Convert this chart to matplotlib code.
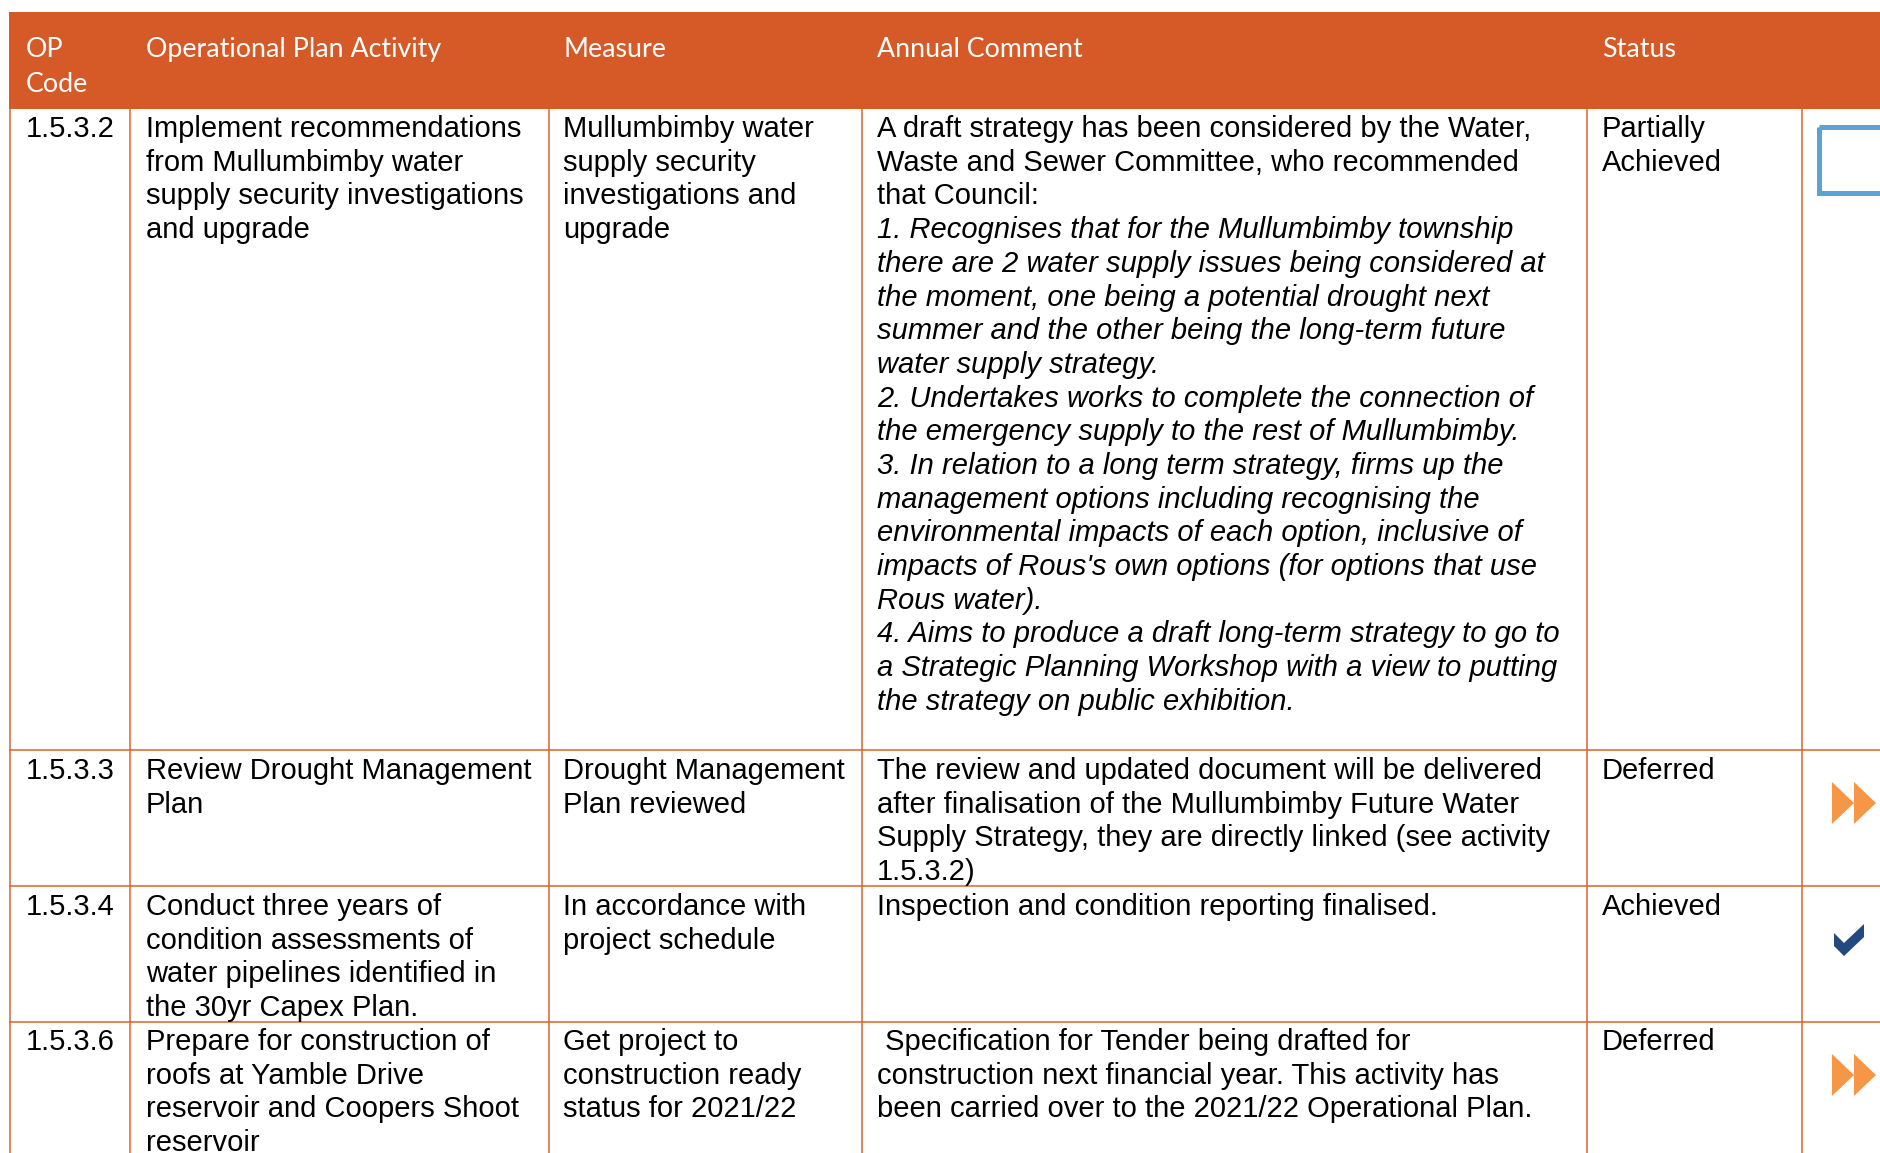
import matplotlib
matplotlib.use("Agg")
import matplotlib.pyplot as plt
from matplotlib.patches import Rectangle, Polygon

# --- table content ---------------------------------------------------------
headers = [["OP", "Code"], ["Operational Plan Activity"], ["Measure"],
           ["Annual Comment"], ["Status"]]

op_codes = ["1.5.3.2", "1.5.3.3", "1.5.3.4", "1.5.3.6"]

activities = [
    ["Implement recommendations", "from Mullumbimby water",
     "supply security investigations", "and upgrade"],
    ["Review Drought Management", "Plan"],
    ["Conduct three years of", "condition assessments of",
     "water pipelines identified in", "the 30yr Capex Plan."],
    ["Prepare for construction of", "roofs at Yamble Drive",
     "reservoir and Coopers Shoot", "reservoir"],
]

measures = [
    ["Mullumbimby water", "supply security", "investigations and", "upgrade"],
    ["Drought Management", "Plan reviewed"],
    ["In accordance with", "project schedule"],
    ["Get project to", "construction ready", "status for 2021/22"],
]

# (text, italic)
comments = [
    [("A draft strategy has been considered by the Water,", False),
     ("Waste and Sewer Committee, who recommended", False),
     ("that Council:", False),
     ("1. Recognises that for the Mullumbimby township", True),
     ("there are 2 water supply issues being considered at", True),
     ("the moment, one being a potential drought next", True),
     ("summer and the other being the long-term future", True),
     ("water supply strategy.", True),
     ("2. Undertakes works to complete the connection of", True),
     ("the emergency supply to the rest of Mullumbimby.", True),
     ("3. In relation to a long term strategy, firms up the", True),
     ("management options including recognising the", True),
     ("environmental impacts of each option, inclusive of", True),
     ("impacts of Rous's own options (for options that use", True),
     ("Rous water).", True),
     ("4. Aims to produce a draft long-term strategy to go to", True),
     ("a Strategic Planning Workshop with a view to putting", True),
     ("the strategy on public exhibition.", True)],
    [("The review and updated document will be delivered", False),
     ("after finalisation of the Mullumbimby Future Water", False),
     ("Supply Strategy, they are directly linked (see activity", False),
     ("1.5.3.2)", False)],
    [("Inspection and condition reporting finalised.", False)],
    [(" Specification for Tender being drafted for", False),
     ("construction next financial year. This activity has", False),
     ("been carried over to the 2021/22 Operational Plan.", False)],
]

statuses = [["Partially", "Achieved"], ["Deferred"], ["Achieved"], ["Deferred"]]
status_icons = ["partial", "deferred", "achieved", "deferred"]

# --- layout (pixels) -------------------------------------------------------
W, H = 1880, 1153
header_top, header_bot = 12, 109
col_lines = [9.5, 130, 549, 862, 1587, 1802]
text_x = [26, 146, 563, 877, 1602]
row_tops = [109, 750, 886, 1022]
row_lines = [750, 886, 1022]
first_base = [137, 779, 915, 1050]
line_step = 33.7

orange = "#D65A28"
grid_c = "#DA6430"
tri_c = "#F79646"
check_c = "#234A80"
box_c = "#5BA3D6"

fig = plt.figure(figsize=(W / 100, H / 100), dpi=100)
ax = fig.add_axes([0, 0, 1, 1])
ax.set_xlim(0, W)
ax.set_ylim(H, 0)
ax.axis("off")

# header band
ax.add_patch(Rectangle((9, header_top), W - 9, header_bot - header_top,
                       facecolor=orange, edgecolor="none"))

# header text, sized to match the reference width
ref = ax.text(0, 0, "Operational Plan Activity", family="Lato", fontsize=20)
fig.canvas.draw()
w = ref.get_window_extent(fig.canvas.get_renderer()).width
ref.remove()
hsize = 20 * 294 / w

for x, lines in zip(text_x, headers):
    for i, t in enumerate(lines):
        ax.text(x, 57 + i * 35, t, family="Lato", fontsize=hsize,
                color="white", va="baseline", ha="left")

# grid lines
for x in col_lines:
    ax.plot([x, x], [header_bot, H], color=grid_c, lw=1.1, solid_capstyle="butt")
for y in row_lines:
    ax.plot([9, W], [y, y], color=grid_c, lw=1.1, solid_capstyle="butt")

body = dict(family="Liberation Sans", fontsize=21, color="black",
            va="baseline", ha="left")

for r in range(len(op_codes)):
    y0 = first_base[r]
    ax.text(text_x[0], y0, op_codes[r], **body)
    for i, t in enumerate(activities[r]):
        ax.text(text_x[1], y0 + i * line_step, t, **body)
    for i, t in enumerate(measures[r]):
        ax.text(text_x[2], y0 + i * line_step, t, **body)
    for i, (t, it) in enumerate(comments[r]):
        ax.text(text_x[3], y0 + i * line_step, t,
                style="italic" if it else "normal", **body)
    for i, t in enumerate(statuses[r]):
        ax.text(text_x[4], y0 + i * line_step, t, **body)

# status icons
for r, kind in enumerate(status_icons):
    top = row_tops[r]
    if kind == "partial":
        ax.add_patch(Rectangle((1819, top + 18), 120, 66, facecolor="none",
                               edgecolor=box_c, lw=3.6))
    elif kind == "deferred":
        ty = top + 32
        for tx in (1832, 1854):
            ax.add_patch(Polygon([(tx, ty), (tx, ty + 42), (tx + 22, ty + 21)],
                                 closed=True, facecolor=tri_c, edgecolor="none"))
    elif kind == "achieved":
        cy = top + 38
        pts = [(1834, cy + 9), (1844, cy + 19), (1864, cy),
               (1864, cy + 13), (1844, cy + 32), (1834, cy + 22)]
        ax.add_patch(Polygon(pts, closed=True, facecolor=check_c, edgecolor="none"))

fig.savefig("out.png", dpi=100, facecolor="white")
